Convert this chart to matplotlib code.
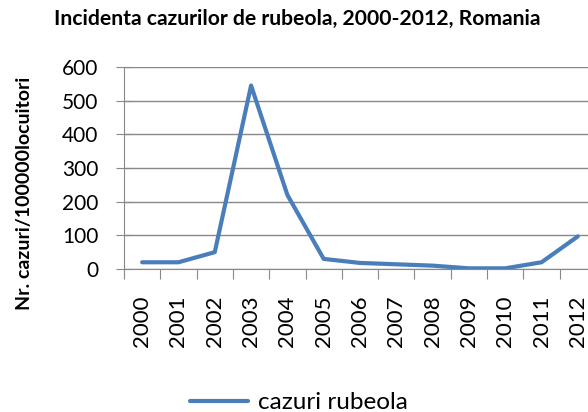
import numpy as np
import matplotlib.pyplot as plt

years = ['2000', '2001', '2002', '2003', '2004', '2005', '2006',
         '2007', '2008', '2009', '2010', '2011', '2012']
cases = [20, 20, 50, 545, 220, 30, 18, 14, 10, 2, 2, 20, 97]
yticks = [0, 100, 200, 300, 400, 500, 600]

plt.rcParams['font.family'] = ['Lato', 'DejaVu Sans']

fig = plt.figure(figsize=(5.88, 4.12), dpi=100)
ax = fig.add_axes([124 / 588, 1 - 269 / 412, 472 / 588, 202 / 412])

x = np.arange(len(years))
line, = ax.plot(x, cases, color='#4A7EBB', linewidth=3, solid_capstyle='round',
                label='cazuri rubeola')

ax.set_xlim(-0.5, len(years) - 0.5)
ax.set_ylim(0, 600)
ax.set_yticks(yticks)
ax.yaxis.grid(True, color='#888888', linewidth=1)
ax.set_axisbelow(True)

ax.set_xticks(np.arange(-0.5, len(years), 1.0))
ax.set_xticklabels([])
ax.set_xticks(x, minor=True)
ax.set_xticklabels(years, minor=True, rotation=90, fontsize=16)
ax.tick_params(axis='x', which='minor', length=0, pad=19)
ax.tick_params(axis='x', which='major', length=7, color='#888888', direction='out')
ax.tick_params(axis='y', length=11, color='#888888', direction='inout', labelsize=15, pad=13)

for s in ['top', 'right']:
    ax.spines[s].set_visible(False)
ax.spines['left'].set_color('#888888')
ax.spines['bottom'].set_color('#888888')

fig.text(0.505, 0.955, 'Incidenta cazurilor de rubeola, 2000-2012, Romania',
         ha='center', va='center', fontsize=15.2, fontweight='bold')
fig.text(0.041, 0.53, 'Nr. cazuri/100000locuitori', rotation=90,
         ha='center', va='center', fontsize=14, fontweight='bold')

fig.legend(handles=[line], loc='center', bbox_to_anchor=(0.508, 0.022),
           frameon=False, fontsize=17.5, handlelength=2.4, handletextpad=0.4)

fig.savefig('out.png', dpi=100)
